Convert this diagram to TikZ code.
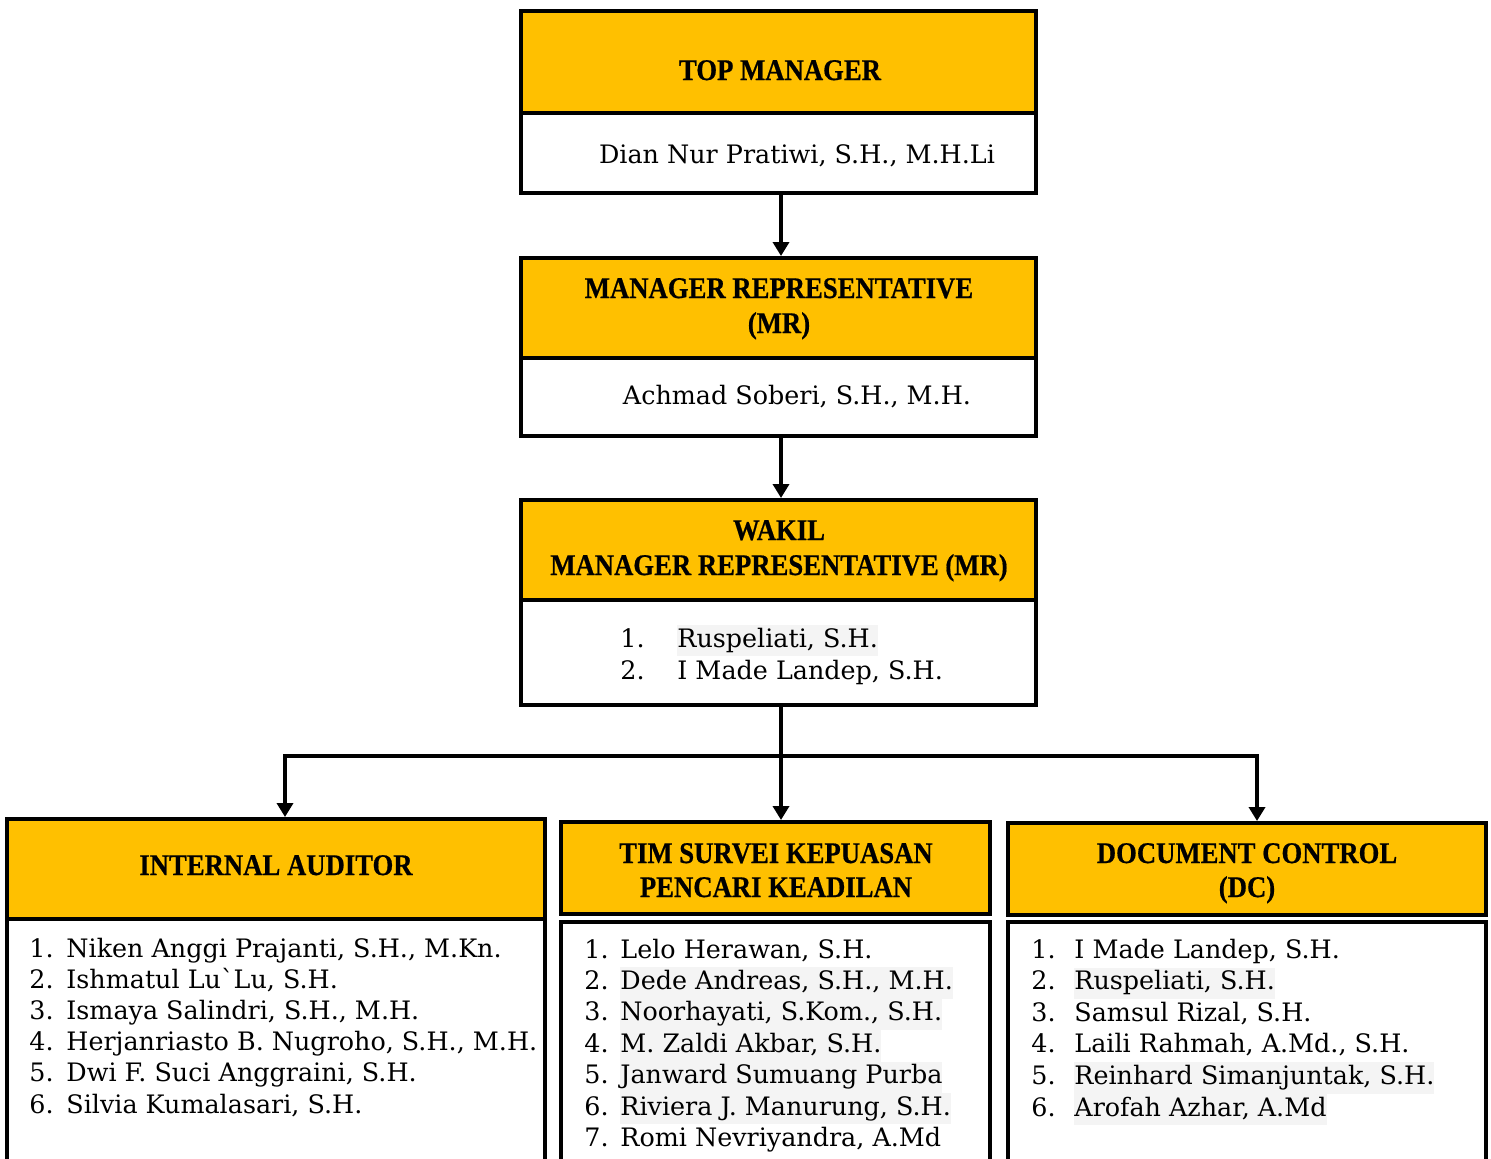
\documentclass[tikz,border=0pt]{standalone}
\usepackage{fontspec}
\setmainfont[Ligatures=TeXOff]{DejaVu Serif}
\newfontfamily\hdrfont[FakeStretch=0.89,FakeBold=0.6]{Liberation Serif}
\usetikzlibrary{arrows.meta,fit}
\definecolor{hdr}{HTML}{FFC000}
\definecolor{hlgray}{HTML}{F4F4F4}
\newcommand\hlt[1]{{\setlength{\fboxsep}{0pt}\colorbox{hlgray}{\strut#1}}}
\begin{document}
\begin{tikzpicture}[x=0.5pt,y=-0.5pt,
  hbox/.style={draw, line width=2pt, fill=hdr, inner sep=0pt, line join=miter},
  bbox/.style={draw, line width=2pt, fill=white, inner sep=0pt, line join=miter},
  htxt/.style={font=\hdrfont\bfseries\fontsize{15}{18}\selectfont, anchor=base, inner sep=0pt},
  ntxt/.style={font=\fontsize{12.7}{15.7}\selectfont, anchor=base west, inner sep=0pt},
  ctxt/.style={font=\fontsize{12.7}{15.7}\selectfont, anchor=base, inner sep=0pt},
  conn/.style={line width=2pt, line join=miter},
  arr/.style={conn, -{Triangle[width=8pt,length=7pt]}}]
\clip (0,0) rectangle (1491,1158);
\fill[white] (0,0) rectangle (1491,1158);
% top manager
\node[hbox, fit={(521,11) (1036,113)}] (th) {};
\node[bbox, fit={(521,113) (1036,193)}] (tb) {};
\node[htxt] (tht) at (780,80) {TOP MANAGER};
\node[ctxt] (tbt) at (797,163) {Dian Nur Pratiwi, S.H., M.H.Li};
% manager representative
\node[hbox, fit={(521,258) (1036,358)}] (mh) {};
\node[bbox, fit={(521,358) (1036,436)}] (mb) {};
\node[htxt] (mht1) at (779,298) {MANAGER REPRESENTATIVE};
\node[htxt] (mht2) at (779,333) {(MR)};
\node[ctxt] (mbt) at (797,404) {Achmad Soberi, S.H., M.H.};
% wakil
\node[hbox, fit={(521,500) (1036,600)}] (wh) {};
\node[bbox, fit={(521,600) (1036,705)}] (wb) {};
\node[htxt] (wht1) at (779,540) {WAKIL};
\node[htxt] (wht2) at (779,575) {MANAGER REPRESENTATIVE (MR)};
\node[ntxt] (wn1) at (620,647) {1.};
\node[ntxt] (wt1) at (677,647) {\hlt{Ruspeliati, S.H.}};
\node[ntxt] (wn2) at (620,679) {2.};
\node[ntxt] (wt2) at (677,679) {I Made Landep, S.H.};
% internal auditor
\node[hbox, fit={(7,819) (545,919)}] (iah) {};
\node[bbox, fit={(7,919) (545,1175)}] (iab) {};
\node[htxt] (iat) at (276,875) {INTERNAL AUDITOR};
\foreach \t [count=\i] in {{Niken Anggi Prajanti, S.H., M.Kn.},{Ishmatul Lu{\char"60}Lu, S.H.},{Ismaya Salindri, S.H., M.H.},{Herjanriasto B. Nugroho, S.H., M.H.},{Dwi F. Suci Anggraini, S.H.},{Silvia Kumalasari, S.H.}}{
  \node[ntxt] (ian\i) at (29,{957+(\i-1)*31.2}) {\i.};
  \node[ntxt] (iat\i) at (66,{957+(\i-1)*31.2}) {\t};
}
% tim survei
\node[hbox, fit={(561,822) (990,914)}] (tsh) {};
\node[bbox, fit={(561,922) (990,1175)}] (tsb) {};
\node[htxt] (tst1) at (776,863) {TIM SURVEI KEPUASAN};
\node[htxt] (tst2) at (776,897) {PENCARI KEADILAN};
\foreach \t [count=\i] in {{Lelo Herawan, S.H.},{\hlt{Dede Andreas, S.H., M.H.}},{\hlt{Noorhayati, S.Kom., S.H.}},{\hlt{M. Zaldi Akbar, S.H.}},{\hlt{Janward Sumuang Purba}},{\hlt{Riviera J. Manurung, S.H.}},{Romi Nevriyandra, A.Md}}{
  \node[ntxt] (tsn\i) at (584,{958+(\i-1)*31.4}) {\i.};
  \node[ntxt] (tsx\i) at (620,{958+(\i-1)*31.4}) {\t};
}
% document control
\node[hbox, fit={(1008,823) (1486,915)}] (dch) {};
\node[bbox, fit={(1008,922) (1486,1175)}] (dcb) {};
\node[htxt] (dct1) at (1247,863) {DOCUMENT CONTROL};
\node[htxt] (dct2) at (1247,897) {(DC)};
\foreach \t [count=\i] in {{I Made Landep, S.H.},{\hlt{Ruspeliati, S.H.}},{Samsul Rizal, S.H.},{Laili Rahmah, A.Md., S.H.},{\hlt{Reinhard Simanjuntak, S.H.}},{\hlt{Arofah Azhar, A.Md}}}{
  \node[ntxt] (dcn\i) at (1031,{958+(\i-1)*31.6}) {\i.};
  \node[ntxt] (dcx\i) at (1074,{958+(\i-1)*31.6}) {\t};
}
% connectors
\draw[arr] (tb.south -| 781,0) -- (781,0 |- mh.north);
\draw[arr] (mb.south -| 781,0) -- (781,0 |- wh.north);
\coordinate (bj) at (781,756);
\coordinate (bl) at (285,756);
\coordinate (br) at (1257,756);
\draw[conn] (wb.south -| bj) -- (bj);
\draw[conn, line cap=rect] (bl) -- (br);
\draw[arr] (bl) -- (bl |- iah.north);
\draw[arr] (bj) -- (bj |- tsh.north);
\draw[arr] (br) -- (br |- dch.north);
\end{tikzpicture}
\end{document}
